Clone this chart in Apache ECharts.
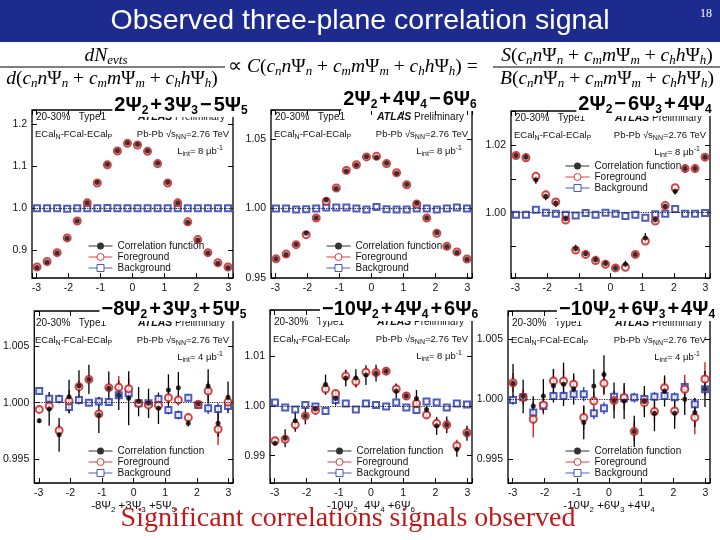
<!DOCTYPE html>
<html>
<head>
<meta charset="utf-8">
<script src="https://cdn.jsdelivr.net/npm/echarts@6/dist/echarts.min.js"></script>
<style>
  html, body { margin: 0; padding: 0; background: #fff; }
  #chart { width: 720px; height: 540px; }
</style>
</head>
<body>
<div id="chart"></div>
<script>
// bin centres (rad), 20 bins over [-pi, pi]
const phiBins = [-2.985, -2.670, -2.356, -2.042, -1.728, -1.414, -1.100, -0.785, -0.471, -0.157,
                 0.157, 0.471, 0.785, 1.100, 1.414, 1.728, 2.042, 2.356, 2.670, 2.985]

// 2Ψ2+3Ψ3-5Ψ5
const p1Corr = [0.860, 0.873, 0.894, 0.929, 0.970, 1.0135, 1.061, 1.104, 1.1365, 1.155, 1.151, 1.136, 1.107, 1.061, 1.0135, 0.967, 0.925, 0.894, 0.870, 0.860]
const p1Fg   = [0.861, 0.874, 0.895, 0.930, 0.970, 1.013, 1.060, 1.103, 1.136, 1.154, 1.150, 1.135, 1.106, 1.060, 1.013, 0.968, 0.926, 0.895, 0.871, 0.861]
const p1Bg   = [1.000, 1.000, 1.000, 0.999, 1.000, 1.000, 1.000, 1.001, 1.000, 1.000, 1.0005, 1.000, 1.000, 1.000, 1.000, 1.000, 1.000, 1.000, 1.000, 1.000]

// 2Ψ2+4Ψ4-6Ψ6
const p2Corr = [0.9638, 0.9669, 0.9742, 0.9822, 0.9932, 1.0062, 1.0145, 1.0270, 1.0314, 1.0374, 1.0370, 1.0326, 1.0254, 1.0174, 1.0038, 0.9932, 0.9826, 0.9726, 0.9684, 0.9635]
const p2Fg   = [0.9638, 0.9672, 0.9740, 0.9812, 0.9932, 1.0053, 1.0148, 1.0275, 1.0316, 1.0372, 1.0376, 1.0324, 1.0258, 1.0172, 1.0033, 0.9932, 0.9822, 0.9728, 0.9688, 0.9637]
const p2Bg   = [1.0000, 1.0000, 0.9993, 0.9995, 1.0000, 1.0007, 1.0007, 1.0007, 1.0000, 0.9993, 1.0012, 0.9995, 0.9993, 0.9993, 1.0000, 1.0000, 0.9993, 1.0000, 1.0007, 1.0000]

// 2Ψ2-6Ψ3+4Ψ4
const p3Corr = [1.0170, 1.0165, 1.0098, 1.0049, 1.0029, 0.9982, 0.9893, 0.9878, 0.9860, 0.9849, 0.9836, 0.9847, 0.9876, 0.9925, 0.9979, 1.0019, 1.0064, 1.0131, 1.0131, 1.0165]
const p3Fg   = [1.0170, 1.0163, 1.0108, 1.0053, 1.0032, 0.9978, 0.9889, 0.9876, 0.9858, 0.9847, 0.9836, 0.9838, 0.9876, 0.9916, 0.9975, 1.0021, 1.0074, 1.0131, 1.0131, 1.0165]
const p3Bg   = [0.9994, 0.9994, 1.0009, 1.0000, 0.9997, 0.9994, 0.9992, 0.9999, 0.9994, 1.0000, 0.9997, 0.9990, 0.9994, 0.9985, 0.9995, 0.9997, 1.0011, 0.9997, 0.9997, 0.9999]
const p3CorrErr = [0.0010, 0.0012, 0.0012, 0.0012, 0.0012, 0.0010, 0.0012, 0.0010, 0.0012, 0.0010, 0.0010, 0.0010, 0.0010, 0.0015, 0.0010, 0.0008, 0.0010, 0.0012, 0.0012, 0.0010]

// -8Ψ2+3Ψ3+5Ψ5
const p4Corr = [0.99838, 0.99944, 0.99714, 1.00053, 1.00147, 1.00206, 0.99891, 1.00127, 1.00065, 1.00038, 1.00009, 0.99994, 0.99950, 1.00112, 1.00133, 0.99817, 0.99988, 1.00147, 0.99817, 1.00047]
const p4Fg   = [0.99940, 0.99970, 0.99752, 1.00015, 1.00142, 1.00206, 0.99900, 1.00133, 1.00136, 1.00124, 0.99994, 0.99980, 0.99976, 1.00044, 1.00024, 0.99867, 0.99985, 1.00103, 0.99764, 1.00006]
const p4Bg   = [1.00103, 1.00035, 1.00032, 0.99962, 1.00024, 1.00000, 1.00009, 1.00006, 1.00065, 1.00083, 0.99994, 0.99994, 1.00032, 0.99935, 0.99891, 1.00044, 0.99980, 0.99950, 0.99944, 0.99970]
const p4CorrErr = [0.0002, 0.0015, 0.0015, 0.0015, 0.0014, 0.0013, 0.0016, 0.0015, 0.0013, 0.0024, 0.0013, 0.0013, 0.0014, 0.0014, 0.0014, 0.0003, 0.0002, 0.0015, 0.0012, 0.0014]
const p4FgErr   = [0.0003, 0.0004, 0.0005, 0.0010, 0.0005, 0.0004, 0.0004, 0.0004, 0.0010, 0.0009, 0.0004, 0.0004, 0.0004, 0.0005, 0.0005, 0.0004, 0.0003, 0.0009, 0.0014, 0.0006]
const p4BgErr   = [0.0003, 0.0004, 0.0004, 0.0005, 0.0004, 0.0003, 0.0004, 0.0003, 0.0004, 0.0004, 0.0003, 0.0003, 0.0004, 0.0004, 0.0004, 0.0003, 0.0003, 0.0005, 0.0005, 0.0004]

// -10Ψ2+4Ψ4+6Ψ6
const p5Corr = [0.9925, 0.9935, 0.9970, 0.9980, 0.9994, 1.0043, 1.0015, 1.0056, 1.0056, 1.0062, 1.0066, 1.0070, 1.0030, 1.0020, 1.0015, 0.9993, 0.9960, 0.9962, 0.9913, 0.9945]
const p5Fg   = [0.9930, 0.9933, 0.9962, 0.9980, 0.9991, 1.0034, 1.0025, 1.0060, 1.0049, 1.0068, 1.0067, 1.0070, 1.0034, 1.0020, 1.0005, 0.9982, 0.9965, 0.9962, 0.9920, 0.9946]
const p5Bg   = [1.0007, 0.9997, 0.9993, 1.0002, 0.9999, 0.9990, 1.0012, 1.0005, 0.9993, 1.0005, 1.0002, 0.9999, 1.0007, 0.9997, 0.9992, 1.0009, 1.0007, 0.9997, 1.0005, 1.0003]
const p5CorrErr = [0.0005, 0.0018, 0.0022, 0.0017, 0.0008, 0.0020, 0.0014, 0.0017, 0.0018, 0.0020, 0.0017, 0.0008, 0.0015, 0.0008, 0.0017, 0.0008, 0.0018, 0.0017, 0.0015, 0.0015]
const p5FgErr   = [0.0008, 0.0008, 0.0010, 0.0008, 0.0008, 0.0012, 0.0008, 0.0012, 0.0012, 0.0010, 0.0010, 0.0008, 0.0010, 0.0008, 0.0010, 0.0008, 0.0010, 0.0010, 0.0012, 0.0010]

// -10Ψ2+6Ψ3+4Ψ4
const p6Corr = [1.00130, 1.00020, 0.99942, 1.00025, 1.00110, 1.00122, 1.00083, 0.99804, 1.00108, 1.00204, 0.99986, 0.99983, 0.99729, 0.99978, 0.99881, 1.00066, 0.99881, 0.99997, 0.99887, 1.00083]
const p6Fg   = [1.00135, 1.00014, 0.99831, 0.99950, 1.00149, 1.00149, 1.00122, 0.99845, 0.99983, 1.00130, 0.99986, 1.00011, 0.99729, 0.99970, 0.99895, 1.00094, 0.99900, 1.00080, 0.99845, 1.00166]
const p6Bg   = [0.99992, 1.00014, 0.99887, 0.99942, 1.00025, 1.00025, 1.00039, 1.00039, 0.99881, 0.99923, 1.00019, 1.00006, 1.00011, 1.00000, 1.00019, 1.00025, 1.00014, 1.00100, 0.99956, 1.00080]
const p6CorrErr = [0.0016, 0.0014, 0.0008, 0.0014, 0.0014, 0.0018, 0.0013, 0.0014, 0.0014, 0.0016, 0.0015, 0.0015, 0.0013, 0.0013, 0.0015, 0.0013, 0.0013, 0.0013, 0.0012, 0.0015]
const p6FgErr   = [0.0008, 0.0006, 0.0015, 0.0008, 0.0010, 0.0010, 0.0008, 0.0010, 0.0008, 0.0010, 0.0008, 0.0010, 0.0008, 0.0008, 0.0008, 0.0008, 0.0008, 0.0012, 0.0014, 0.0014]
const p6BgErr   = [0.0004, 0.0004, 0.0005, 0.0004, 0.0004, 0.0004, 0.0005, 0.0006, 0.0005, 0.0005, 0.0004, 0.0004, 0.0004, 0.0004, 0.0004, 0.0004, 0.0004, 0.0005, 0.0005, 0.0004]

const panelTitles = [
  '{b|2Ψ}{s|2}{o|+}{b|3Ψ}{s|3}{o|−}{b|5Ψ}{s|5}',
  '{b|2Ψ}{s|2}{o|+}{b|4Ψ}{s|4}{o|−}{b|6Ψ}{s|6}',
  '{b|2Ψ}{s|2}{o|−}{b|6Ψ}{s|3}{o|+}{b|4Ψ}{s|4}',
  '{b|−8Ψ}{s|2}{o|+}{b|3Ψ}{s|3}{o|+}{b|5Ψ}{s|5}',
  '{b|−10Ψ}{s|2}{o|+}{b|4Ψ}{s|4}{o|+}{b|6Ψ}{s|6}',
  '{b|−10Ψ}{s|2}{o|+}{b|6Ψ}{s|3}{o|+}{b|4Ψ}{s|4}',
]
const xNames = ['', '', '',
  '-8Ψ{s|2} +3Ψ{s|3} +5Ψ{s|5}',
  '-10Ψ{s|2}  4Ψ{s|4} +6Ψ{s|6}',
  '-10Ψ{s|2} +6Ψ{s|3} +4Ψ{s|4}']

const red = '#cc1414'
const blue = '#2233b0'

// layout of the six pads
const panels = [
  { corr: p1Corr, fg: p1Fg, bg: p1Bg, grid: { left: 32, top: 110, width: 201, height: 168 }, y: [0.835, 1.233], split: 4, step: 0.1, dec: 1, leg: [88, 241], tpos: [181, 105], lint: '8' },
  { corr: p2Corr, fg: p2Fg, bg: p2Bg, grid: { left: 271, top: 110, width: 201, height: 168 }, y: [0.95, 1.071], split: 2, step: 0.05, dec: 2, leg: [326, 241], tpos: [410, 99], lint: '8' },
  { corr: p3Corr, fg: p3Fg, bg: p3Bg, corrErr: p3CorrErr, grid: { left: 511, top: 111, width: 199, height: 167 }, y: [0.9806, 1.0302], split: 5, step: 0.02, dec: 2, leg: [565, 161], tpos: [645, 104], lint: '8' },
  { corr: p4Corr, fg: p4Fg, bg: p4Bg, corrErr: p4CorrErr, fgErr: p4FgErr, bgErr: p4BgErr, grid: { left: 32, top: 311, width: 201, height: 172 }, y: [0.99286, 1.00814], split: 3, step: 0.005, dec: 3, leg: [88, 446], tpos: [174, 309], lint: '4' },
  { corr: p5Corr, fg: p5Fg, bg: p5Bg, corrErr: p5CorrErr, fgErr: p5FgErr, grid: { left: 270, top: 310, width: 202, height: 173 }, y: [0.9845, 1.0193], split: 3, step: 0.01, dec: 2, leg: [327, 446], tpos: [400, 309], lint: '8' },
  { corr: p6Corr, fg: p6Fg, bg: p6Bg, corrErr: p6CorrErr, fgErr: p6FgErr, bgErr: p6BgErr, grid: { left: 508, top: 311, width: 202, height: 172 }, y: [0.993, 1.00732], split: 3, step: 0.005, dec: 3, leg: [565, 446], tpos: [637, 309], lint: '4' },
]

const lab = { fontFamily: 'Liberation Sans', fontSize: 10.5, color: '#111' }

function errRender(color) {
  return function (params, api) {
    const x = api.value(0), y = api.value(1), e = api.value(2)
    const a = api.coord([x, y - e]), b = api.coord([x, y + e])
    return { type: 'line', shape: { x1: a[0], y1: a[1], x2: b[0], y2: b[1] }, style: { stroke: color, lineWidth: 1.3 } }
  }
}

const grids = [], xAxes = [], yAxes = [], series = [], legends = [], elements = []

panels.forEach((p, i) => {
  grids.push({ ...p.grid, show: true, borderColor: '#000', borderWidth: 1.3, backgroundColor: '#fff', containLabel: false })
  ;['bottom', 'top'].forEach((pos, k) => {
    xAxes.push({
      type: 'value', gridIndex: i, position: pos, min: -Math.PI, max: Math.PI, splitNumber: 6,
      axisLine: { show: false, onZero: false }, splitLine: { show: false },
      axisTick: { inside: true, length: 5, lineStyle: { color: '#000' } },
      axisLabel: { show: k === 0, ...lab, margin: 5, formatter: v => Math.abs(v - Math.round(v)) < 1e-6 ? String(Math.round(v)) : '' },
      name: k === 0 ? xNames[i] : '', nameLocation: 'middle', nameGap: 11,
      nameTextStyle: { fontFamily: 'Liberation Sans', fontSize: 11.5, color: '#111', rich: { s: { fontSize: 8, fontFamily: 'Liberation Sans', color: '#111', padding: [7, 0, 0, 0] } } },
    })
  })
  ;['left', 'right'].forEach((pos, k) => {
    yAxes.push({
      type: 'value', gridIndex: i, position: pos, min: p.y[0], max: p.y[1], splitNumber: p.split,
      axisLine: { show: false, onZero: false }, splitLine: { show: false },
      axisTick: { inside: true, length: 5, lineStyle: { color: '#000' } },
      axisLabel: {
        show: k === 0, ...lab, margin: 5,
        formatter: v => Math.abs(v / p.step - Math.round(v / p.step)) < 1e-6 ? v.toFixed(p.dec) : '',
      },
    })
  })
  const xi = 2 * i, yi = 2 * i
  const pts = arr => phiBins.map((x, j) => [x, arr[j]])
  const errs = (arr, e) => phiBins.map((x, j) => [x, arr[j], e[j]])
  if (p.bgErr) series.push({ type: 'custom', xAxisIndex: xi, yAxisIndex: yi, renderItem: errRender(blue), data: errs(p.bg, p.bgErr), encode: { x: 0, y: 1 }, silent: true })
  if (p.fgErr) series.push({ type: 'custom', xAxisIndex: xi, yAxisIndex: yi, renderItem: errRender(red), data: errs(p.fg, p.fgErr), encode: { x: 0, y: 1 }, silent: true })
  if (p.corrErr) series.push({ type: 'custom', xAxisIndex: xi, yAxisIndex: yi, renderItem: errRender('#000'), data: errs(p.corr, p.corrErr), encode: { x: 0, y: 1 }, silent: true })
  series.push({
    name: 'Background', type: 'scatter', xAxisIndex: xi, yAxisIndex: yi, data: pts(p.bg),
    symbol: 'emptyRect', symbolSize: 6, itemStyle: { color: blue, borderWidth: 1.2 },
    markLine: { silent: true, symbol: 'none', label: { show: false }, data: [{ yAxis: 1 }], lineStyle: { color: '#222', type: 'dotted', width: 1.2 } },
  })
  series.push({ name: 'Foreground', type: 'scatter', xAxisIndex: xi, yAxisIndex: yi, data: pts(p.fg), symbol: 'emptyCircle', symbolSize: 7, itemStyle: { color: red, borderWidth: 1.2 } })
  series.push({ name: 'Correlation function', type: 'scatter', xAxisIndex: xi, yAxisIndex: yi, data: pts(p.corr), symbol: 'circle', symbolSize: 5, itemStyle: { color: '#000' } })

  legends.push({
    orient: 'vertical', left: p.leg[0], top: p.leg[1], itemWidth: 24, itemHeight: 7, itemGap: 1, selectedMode: false, padding: 0,
    textStyle: { fontFamily: 'Liberation Sans', fontSize: 10, color: '#111', lineHeight: 10 },
    data: [
      { name: 'Correlation function', icon: 'path://M0,3 L24,3 L24,4 L0,4 Z M8.5,3.5 A3.5,3.5 0 1 1 15.5,3.5 A3.5,3.5 0 1 1 8.5,3.5 Z', itemStyle: { color: '#000', borderWidth: 0 } },
      { name: 'Foreground', icon: 'path://M0,3.5 L8.5,3.5 M15.5,3.5 L24,3.5 M8.5,3.5 A3.5,3.5 0 1 1 15.5,3.5 A3.5,3.5 0 1 1 8.5,3.5 Z', itemStyle: { color: 'rgba(0,0,0,0)', borderColor: red, borderWidth: 1 } },
      { name: 'Background', icon: 'path://M0,3.5 L8.5,3.5 M15.5,3.5 L24,3.5 M8.5,0 L15.5,0 L15.5,7 L8.5,7 Z', itemStyle: { color: 'rgba(0,0,0,0)', borderColor: blue, borderWidth: 1 } },
    ],
  })

  // pad annotations
  const L = p.grid.left, T = p.grid.top, R = p.grid.left + p.grid.width
  const d1 = i < 3 ? 7 : 12
  const small = { fontFamily: 'Liberation Sans', fontSize: 10, fill: '#111' }
  const subRich = { s: { fontFamily: 'Liberation Sans', fontSize: 7, color: '#111', padding: [6, 0, 0, 0] }, u: { fontFamily: 'Liberation Sans', fontSize: 7, color: '#111', padding: [0, 0, 6, 0] } }
  elements.push({ type: 'text', z: 50, style: { ...small, text: '20-30%   Type1', x: L + 4, y: T + d1, verticalAlign: 'middle' } })
  elements.push({ type: 'text', z: 50, style: { ...small, text: '{a|ATLAS} Preliminary', x: R - 8, y: T + d1, align: 'right', verticalAlign: 'middle', rich: { a: { fontFamily: 'Liberation Sans', fontSize: 10.5, fontWeight: 'bold', fontStyle: 'italic', color: '#111' } } } })
  elements.push({ type: 'text', z: 50, style: { ...small, fontSize: 9.5, text: 'ECal{s|N}-FCal-ECal{s|P}', x: L + 3, y: T + d1 + 17, verticalAlign: 'middle', rich: subRich } })
  elements.push({ type: 'text', z: 50, style: { ...small, fontSize: 9.5, text: 'Pb-Pb √s{s|NN}=2.76 TeV', x: R - 4, y: T + d1 + 17, align: 'right', verticalAlign: 'middle', rich: subRich } })
  elements.push({ type: 'text', z: 50, style: { ...small, fontSize: 9.5, text: 'L{s|int}= ' + p.lint + ' μb{u|-1}', x: R - 10, y: T + d1 + 34, align: 'right', verticalAlign: 'middle', rich: subRich } })
  const tb = { fontFamily: 'Liberation Sans', fontWeight: 'bold', fontSize: 20, color: '#000' }
  elements.push({
    type: 'text', z: 60,
    style: {
      text: panelTitles[i], x: p.tpos[0], y: p.tpos[1], align: 'center', verticalAlign: 'middle',
      backgroundColor: '#fff', padding: [0, 2, 0, 2],
      rich: {
        b: tb,
        o: { ...tb, padding: [0, 2, 0, 2] },
        s: { fontFamily: 'Liberation Sans', fontWeight: 'bold', fontSize: 12, color: '#000', padding: [12, 0, 0, 0] },
      },
    },
  })
})

// slide decoration: title bar, formula, conclusion
const fRich = {
  i: { fontFamily: 'Liberation Serif', fontStyle: 'italic', fontSize: 19.5, color: '#000' },
  r: { fontFamily: 'Liberation Serif', fontSize: 19.5, color: '#000' },
  s: { fontFamily: 'Liberation Serif', fontStyle: 'italic', fontSize: 13, color: '#000', padding: [9, 0, 0, 0] },
}
function term(k) { return `{i|c}{s|${k}}{i|${k}}{r|Ψ}{s|${k}}` }
const sum = term('n') + '{r| + }' + term('m') + '{r| + }' + term('h')

elements.push(
  { type: 'rect', z: 1, shape: { x: 0, y: 0, width: 720, height: 42 }, style: { fill: '#1d2b8f' } },
  { type: 'text', z: 2, style: { text: 'Observed three-plane correlation signal', x: 360, y: 21, align: 'center', verticalAlign: 'middle', fill: '#fff', font: '28.5px "Liberation Sans"' } },
  { type: 'text', z: 2, style: { text: '18', x: 706, y: 14, align: 'center', verticalAlign: 'middle', fill: '#fff', font: '12px "Liberation Serif"' } },
  { type: 'text', z: 2, style: { text: '{i|dN}{s|evts}', x: 106, y: 56, align: 'center', verticalAlign: 'middle', rich: fRich } },
  { type: 'line', z: 2, shape: { x1: 0, y1: 67, x2: 225, y2: 67 }, style: { stroke: '#000', lineWidth: 1 } },
  { type: 'text', z: 2, style: { text: '{i|d}{r|(}' + sum + '{r|)}', x: 112, y: 79, align: 'center', verticalAlign: 'middle', rich: fRich } },
  { type: 'text', z: 2, style: { text: '{r|∝ }{i|C}{r|(}' + sum + '{r|) =}', x: 228, y: 67, align: 'left', verticalAlign: 'middle', rich: fRich } },
  { type: 'text', z: 2, style: { text: '{i|S}{r|(}' + sum + '{r|)}', x: 607, y: 56, align: 'center', verticalAlign: 'middle', rich: fRich } },
  { type: 'line', z: 2, shape: { x1: 493, y1: 67, x2: 720, y2: 67 }, style: { stroke: '#000', lineWidth: 1 } },
  { type: 'text', z: 2, style: { text: '{i|B}{r|(}' + sum + '{r|)}', x: 607, y: 79, align: 'center', verticalAlign: 'middle', rich: fRich } },
  { type: 'text', z: 70, style: { text: 'Significant correlations signals observed', x: 348, y: 519, align: 'center', verticalAlign: 'middle', fill: '#c41818', font: '28px "Liberation Serif"' } },
)

const chart = echarts.init(document.getElementById('chart'))
chart.setOption({
  animation: false,
  backgroundColor: '#fff',
  grid: grids,
  xAxis: xAxes,
  yAxis: yAxes,
  legend: legends,
  series: series,
  graphic: { elements: elements },
})
</script>
</body>
</html>
